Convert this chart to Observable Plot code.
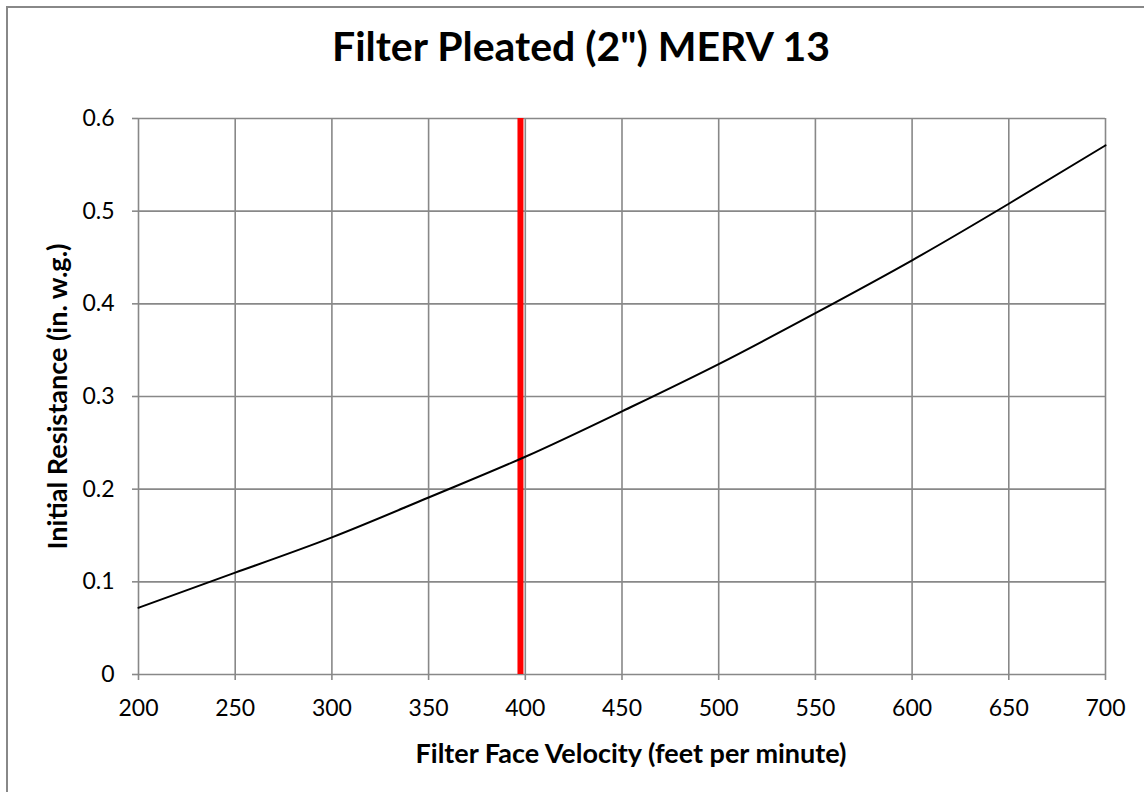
<!DOCTYPE html>
<html><head><meta charset="utf-8">
<script src="https://cdn.jsdelivr.net/npm/d3@7"></script>
<script src="https://cdn.jsdelivr.net/npm/@observablehq/plot@0.6"></script>
<style>
body{margin:0;background:#fff;font-family:Lato,sans-serif;overflow:hidden}
#frame{position:absolute;left:6px;top:6px;width:1300px;height:1000px;border-left:2px solid #888;border-top:2px solid #888;}
#title{position:absolute;left:9px;top:21px;width:1144px;text-align:center;font-weight:bold;font-size:41px;color:#000;line-height:50px}
#chart{position:absolute;left:0;top:90px}
#chart svg{overflow:visible}
#chart svg text{fill:#000}
g[aria-label="x-axis tick label"] text, g[aria-label="y-axis tick label"] text{font-size:23px !important}
g[aria-label="x-axis label"] text, g[aria-label="y-axis label"] text{font-weight:bold !important;font-size:27px !important}
</style></head><body>
<div id="frame"></div>
<div id="title">Filter Pleated (2") MERV 13</div>
<div id="chart"></div>
<script>
const velocity = [200, 250, 300, 350, 400, 450, 500, 550, 600, 650, 700];
const resistance = [0.072, 0.110, 0.148, 0.191, 0.235, 0.284, 0.335, 0.390, 0.447, 0.508, 0.571];
const xTicks = [200, 250, 300, 350, 400, 450, 500, 550, 600, 650, 700];
const yTicks = [0, 0.1, 0.2, 0.3, 0.4, 0.5, 0.6];
const yTickLabels = ["0", "0.1", "0.2", "0.3", "0.4", "0.5", "0.6"];
const markerVelocity = [397.5];

const data = velocity.map((v, i) => ({v, r: resistance[i]}));
const grid = "#888888";

const chart = Plot.plot({
  width: 1144,
  height: 702,
  marginLeft: 138,
  marginRight: 39,
  marginTop: 28,
  marginBottom: 118,
  style: {fontFamily: "Lato, sans-serif", color: "#000", background: "transparent"},
  x: {domain: [200, 700]},
  y: {domain: [0, 0.6]},
  marks: [
    Plot.ruleX(xTicks, {stroke: grid, strokeWidth: 1.6}),
    Plot.ruleY(yTicks, {stroke: grid, strokeWidth: 1.6}),
    Plot.axisX({ticks: xTicks, tickSize: 6, tickPadding: 19, stroke: grid, strokeWidth: 1.6, strokeOpacity: 1, tickFormat: d => String(d),
      label: "Filter Face Velocity (feet per minute)", labelAnchor: "center", labelArrow: "none", labelOffset: 88}),
    Plot.axisY({ticks: yTicks, tickSize: 6, tickPadding: 18, stroke: grid, strokeWidth: 1.6, strokeOpacity: 1, tickFormat: (d, i) => yTickLabels[i],
      label: "Initial Resistance (in. w.g.)", labelAnchor: "center", labelArrow: "none", labelOffset: 91}),
    Plot.ruleX(markerVelocity, {y1: 0, y2: 0.6, stroke: "red", strokeWidth: 6}),
    Plot.line(data, {x: "v", y: "r", stroke: "#000", strokeWidth: 2, curve: "natural"})
  ]
});
const xl = chart.querySelector('g[aria-label="x-axis label"] text');
if (xl) xl.setAttribute("dx", "9");
document.getElementById("chart").appendChild(chart);
</script>
</body></html>
